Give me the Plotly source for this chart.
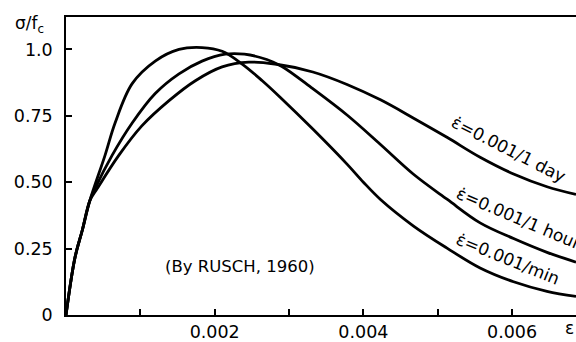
import plotly.graph_objects as go

# strain values and normalized stress sigma/fc for each strain rate
strain_min = [0, 0.00012, 0.00022, 0.00032, 0.000525, 0.00066, 0.00089, 0.0012, 0.00152, 0.00183, 0.0021,
              0.00237, 0.00264, 0.00288, 0.00332, 0.00378, 0.0040, 0.00423, 0.00467, 0.00513, 0.00557,
              0.00602, 0.00647, 0.00686]
stress_min = [0, 0.215, 0.32, 0.43, 0.601, 0.723, 0.871, 0.956, 1.0, 1.007, 0.993,
              0.945, 0.882, 0.820, 0.700, 0.568, 0.50, 0.435, 0.336, 0.251, 0.177,
              0.125, 0.089, 0.070]

strain_hour = [0, 0.00012, 0.00022, 0.00032, 0.00039, 0.00062, 0.00089, 0.0012, 0.00152, 0.00183, 0.00214,
               0.0024, 0.0027, 0.00291, 0.00332, 0.00378, 0.00423, 0.00467, 0.00513, 0.00557, 0.00602,
               0.00647, 0.00686]
stress_hour = [0, 0.215, 0.32, 0.43, 0.476, 0.601, 0.723, 0.834, 0.908, 0.956, 0.982,
               0.982, 0.962, 0.935, 0.852, 0.753, 0.642, 0.531, 0.435, 0.347, 0.288,
               0.236, 0.199]

strain_day = [0, 0.00012, 0.00022, 0.00032, 0.00042, 0.00071, 0.00102, 0.00139, 0.00174, 0.0021, 0.00246,
              0.00281, 0.00332, 0.00378, 0.00423, 0.00467, 0.00513, 0.00557, 0.00602, 0.00647, 0.00686]
stress_day = [0, 0.215, 0.32, 0.43, 0.476, 0.601, 0.712, 0.808, 0.882, 0.934, 0.952,
              0.945, 0.915, 0.868, 0.810, 0.742, 0.668, 0.594, 0.531, 0.483, 0.454]

x_tickvals = [0.002, 0.004, 0.006]
x_ticktext = ["0.002", "0.004", "0.006"]
y_tickvals = [0, 0.25, 0.5, 0.75, 1.0]
y_ticktext = ["0", "0.25", "0.50", "0.75", "1.0"]

labels = ["ε̇=0.001/1 day", "ε̇=0.001/1 hour", "ε̇=0.001/min"]

FONT = "DejaVu Sans"
fig = go.Figure()
for xs, ys in [(strain_min, stress_min), (strain_hour, stress_hour), (strain_day, stress_day)]:
    fig.add_trace(go.Scatter(x=xs, y=ys, mode="lines",
                             line=dict(color="black", width=2.8, shape="spline", smoothing=1.0),
                             showlegend=False, hoverinfo="skip"))

fig.update_layout(
    width=576, height=342,
    margin=dict(l=66, r=0, t=17, b=21),
    plot_bgcolor="white", paper_bgcolor="white",
    font=dict(family=FONT, size=17.5, color="black"),
)
fig.update_xaxes(range=[0, 0.00686], tickvals=x_tickvals, ticktext=x_ticktext,
                 ticks="inside", ticklen=6, tickwidth=1.5, tickcolor="black",
                 minor=dict(dtick=0.001, tick0=0, ticks="inside", ticklen=6, tickwidth=1.5,
                            tickcolor="black", showgrid=False),
                 showline=True, linecolor="black", linewidth=1.5, mirror=True,
                 showgrid=False, zeroline=False, ticklabelstandoff=0)
fig.update_yaxes(range=[0, 1.122], tickvals=y_tickvals, ticktext=y_ticktext,
                 ticks="inside", ticklen=6, tickwidth=1.5, tickcolor="black",
                 showline=True, linecolor="black", linewidth=1.5,
                 showgrid=False, zeroline=False, ticklabelstandoff=8)

# axis titles
fig.add_annotation(text="σ/f<sub>c</sub>", xref="paper", yref="paper", x=-0.104, y=1.02,
                   xanchor="left", yanchor="top", showarrow=False, font=dict(size=17))
fig.add_annotation(text="ε", xref="paper", yref="paper", x=1.0, y=0, xanchor="right",
                   yanchor="top", yshift=-1, showarrow=False, font=dict(size=17))
fig.add_annotation(text="(By RUSCH, 1960)", x=0.00234, y=0.1845, showarrow=False,
                   font=dict(size=16.5))

# curve labels
for txt, xx, yy, ang in [(labels[0], 0.00595, 0.625, 27),
                         (labels[1], 0.00608, 0.365, 23),
                         (labels[2], 0.00595, 0.212, 22)]:
    fig.add_annotation(text=txt, x=xx, y=yy, showarrow=False, textangle=ang,
                       font=dict(size=17))

fig.write_html("out.html")
